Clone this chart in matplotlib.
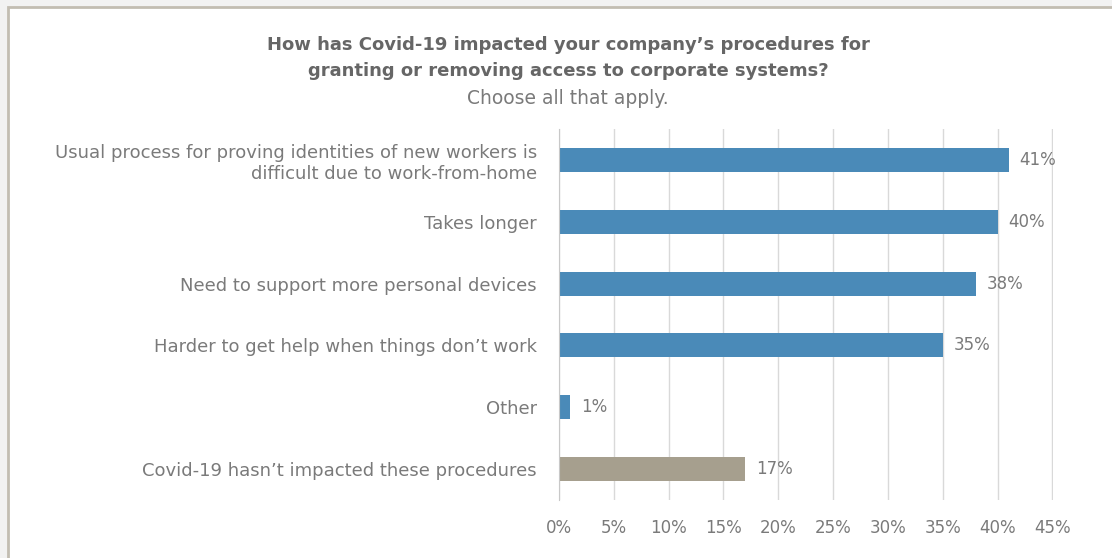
import matplotlib.pyplot as plt
from matplotlib.patches import Rectangle

categories = [
    "Usual process for proving identities of new workers is\ndifficult due to work-from-home",
    "Takes longer",
    "Need to support more personal devices",
    "Harder to get help when things don\u2019t work",
    "Other",
    "Covid-19 hasn\u2019t impacted these procedures",
]
values = [41, 40, 38, 35, 1, 17]
bar_colors = ["#4a8ab8"] * 5 + ["#a69f8e"]
ticks = [0, 5, 10, 15, 20, 25, 30, 35, 40, 45]

plt.rcParams['font.family'] = ['DejaVu Sans']
label_col = "#7a7a7a"

fig = plt.figure(figsize=(11.12, 5.58), dpi=100)
fig.patch.set_facecolor("#f2f2f2")

# chart frame
W, H = 1112, 558
frame = Rectangle((8 / W, -0.05), 1.1, 1 - 7 / H + 0.05, transform=fig.transFigure,
                  facecolor="white", edgecolor="#c2bdb2", linewidth=2, zorder=-5)
fig.patches.append(frame)

ax = fig.add_axes([559 / W, 1 - 500 / H, (1053 - 559) / W, (500 - 129) / H])
ax.set_facecolor("none")
ax.set_zorder(2)

y = list(range(len(categories)))
ax.barh(y, values, height=0.39, color=bar_colors, zorder=3)
for yi, v in zip(y, values):
    ax.text(v + 1.0, yi, f"{v}%", va="center", ha="left", fontsize=12, color=label_col)

ax.set_xlim(0, 45.05)
ax.set_ylim(5.5, -0.5)
ax.set_xticks(ticks)
ax.set_xticklabels([f"{t}%" for t in ticks], fontsize=12, color=label_col)
ax.set_yticks(y)
ax.set_yticklabels(categories, fontsize=13, color=label_col, linespacing=1.25)
ax.tick_params(axis="both", length=0)
ax.tick_params(axis="x", pad=14)
ax.tick_params(axis="y", pad=16)
ax.grid(axis="x", color="#d9d9d9", linewidth=1, zorder=0)
for s in ["top", "right", "bottom"]:
    ax.spines[s].set_visible(False)
ax.spines["left"].set_color("#c8c8c8")
ax.spines["left"].set_zorder(4)

fig.text(568 / W, 1 - 45 / H, "How has Covid-19 impacted your company\u2019s procedures for",
         ha="center", va="center", fontsize=13, fontweight="bold", color="#666666")
fig.text(568 / W, 1 - 71 / H, "granting or removing access to corporate systems?",
         ha="center", va="center", fontsize=13, fontweight="bold", color="#666666")
fig.text(568 / W, 1 - 98 / H, "Choose all that apply.",
         ha="center", va="center", fontsize=13.5, color="#7a7a7a")

fig.savefig("out.png", dpi=100, facecolor=fig.get_facecolor())
